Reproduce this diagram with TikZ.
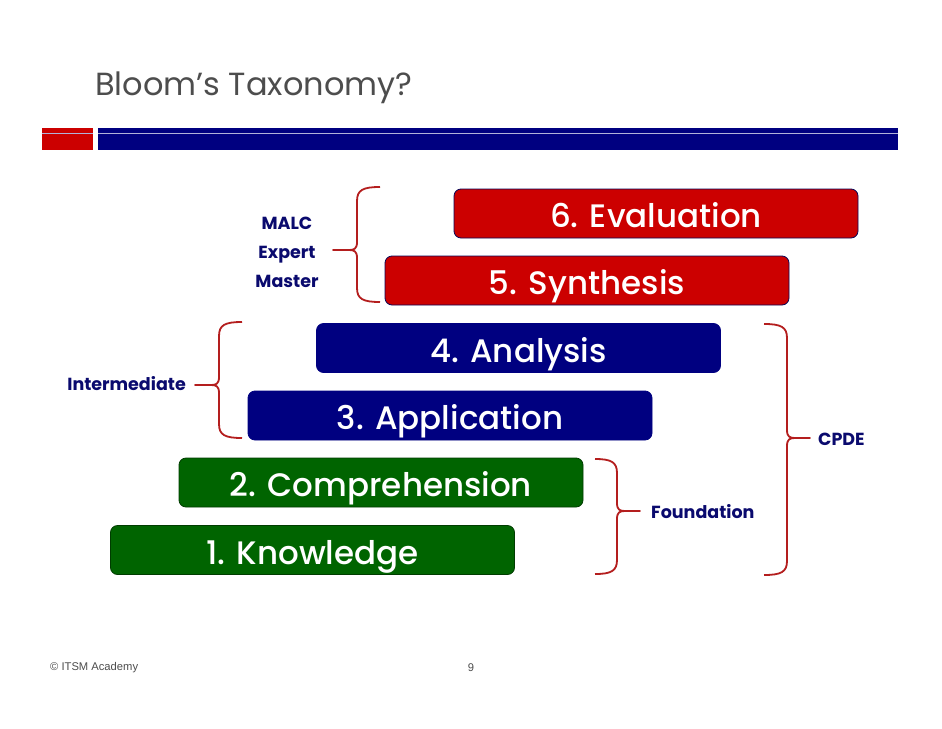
\documentclass[tikz,border=0pt]{standalone}
\usepackage{fontspec}
\setmainfont{Poppins}
\newfontfamily\boxfont{Poppins Medium}
\newfontfamily\footfont{Liberation Sans}
\definecolor{boxred}{HTML}{CC0000}
\definecolor{boxblue}{HTML}{000080}
\definecolor{boxgreen}{HTML}{006400}
\definecolor{lblnavy}{HTML}{0A0A6E}
\definecolor{bracered}{HTML}{B41E1E}
\definecolor{titlegray}{HTML}{4D4D4D}
\newcommand\mybraceL[6]{% e, v, t, y1, ym, y2
  \draw[bracestyle] (#1,#4) .. controls (#2+6,#4) and (#2,#4+3) .. (#2,#4+14) -- (#2,#5-8)
    .. controls (#2,#5-1) and (#2-3,#5) .. (#2-8,#5) -- (#3,#5) -- (#2-8,#5)
    .. controls (#2-3,#5) and (#2,#5+1) .. (#2,#5+8) -- (#2,#6-14)
    .. controls (#2,#6-3) and (#2+6,#6) .. (#1,#6);}
\newcommand\mybraceR[6]{% e, v, t, y1, ym, y2
  \draw[bracestyle] (#1,#4) .. controls (#2-6,#4) and (#2,#4+3) .. (#2,#4+14) -- (#2,#5-8)
    .. controls (#2,#5-1) and (#2+3,#5) .. (#2+8,#5) -- (#3,#5) -- (#2+8,#5)
    .. controls (#2+3,#5) and (#2,#5+1) .. (#2,#5+8) -- (#2,#6-14)
    .. controls (#2,#6-3) and (#2-6,#6) .. (#1,#6);}
\tikzset{
  level/.style={rounded corners=7pt, minimum width=404pt, minimum height=49pt, inner sep=0pt,
    text height=28pt, text depth=0pt,
    text=white, font=\boxfont\fontsize{32.5}{32.5}\selectfont, line width=0.8pt},
  redlevel/.style={level, fill=boxred, draw=lblnavy!80!black},
  bluelevel/.style={level, fill=boxblue, draw=boxblue},
  greenlevel/.style={level, fill=boxgreen, draw=boxgreen!60!black},
  lbl/.style={text=lblnavy, font=\bfseries\fontsize{17.5}{17.5}\selectfont, inner sep=0pt},
  bracestyle/.style={draw=bracered, line width=1.8pt, line join=round},
  foot/.style={text=titlegray, font=\footfont\fontsize{11.2}{11.2}\selectfont, inner sep=0pt}
}
\begin{document}
\begin{tikzpicture}[x=1pt,y=-1pt]
\useasboundingbox (0,0) rectangle (942,728);
\fill[white] (0,0) rectangle (942,728);
% title
\node[anchor=west, text=titlegray, font=\fontsize{32}{32}\selectfont, inner sep=0pt] (title) at (95,88) {Bloom’s Taxonomy?};
% header bar
\fill[boxred] (42,128) rectangle (93,150);
\fill[boxblue] (98,128) rectangle (898,150);
\draw[white!70!boxblue, line width=0.7pt] (42,133.5) -- (93,133.5);
\draw[white!70!boxblue, line width=0.7pt] (98,133.5) -- (898,133.5);
% levels
\node[redlevel] (eval) at (656,213.5) {6. Evaluation};
\node[redlevel] (synth) at (587,280.5) {5. Synthesis};
\node[bluelevel] (anal) at (518.5,348) {4. Analysis};
\node[bluelevel] (appl) at (450,415.5) {3. Application};
\node[greenlevel] (comp) at (381,482.5) {2. Comprehension};
\node[greenlevel] (know) at (312.5,550) {1. Knowledge};
% labels
\node[lbl, anchor=base] (malc) at (287,229.5) {MALC};
\node[lbl, anchor=base] (expert) at (287,258.5) {Expert};
\node[lbl, anchor=base] (master) at (287,287) {Master};
\node[lbl, anchor=base east] (inter) at (186,390.5) {Intermediate};
\node[lbl, anchor=base west] (found) at (651,518.5) {Foundation};
\node[lbl, anchor=base west] (cpde) at (818,445) {CPDE};
% braces
\mybraceL{380}{357}{333}{187}{250}{302}
\mybraceL{242}{219}{195}{322}{385}{438}
\mybraceR{595}{617}{640}{459}{511}{574}
\mybraceR{764}{787}{810}{324}{438}{575}
% footer
\node[foot, anchor=west] (copy) at (50,668) {© ITSM Academy};
\node[foot] (page) at (471,668) {9};
\end{tikzpicture}
\end{document}
